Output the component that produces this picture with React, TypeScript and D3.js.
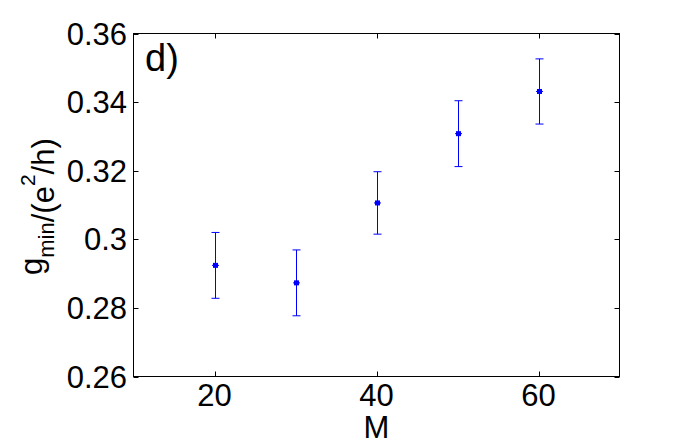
import React from "react";
import * as d3 from "d3";

const mValues = [20, 30, 40, 50, 60];
const gMin = [0.2924, 0.2873, 0.3106, 0.3308, 0.3431];
const gErr = [0.0096, 0.0096, 0.0091, 0.0096, 0.0095];
const xTicks = [20, 40, 60];
const yTicks = [0.26, 0.28, 0.3, 0.32, 0.34, 0.36];

const W = 685, H = 443;
const L = 133.5, R = 619.5, T = 33.5, B = 376.5;

export default function App() {
  const x = d3.scaleLinear().domain([10, 70]).range([L, R]);
  const y = d3.scaleLinear().domain([0.26, 0.36]).range([B, T]);
  const font = "Arial, 'Liberation Sans', Helvetica, sans-serif";
  const tl = 5;
  const fmt = (v: number) => (Math.abs(v - 0.3) < 1e-9 ? "0.3" : v.toFixed(2));
  return (
    <svg width={W} height={H} style={{ position: "absolute", left: 0, top: 0, background: "#fff" }}>
      <rect x={0} y={0} width={W} height={H} fill="#fff" />
      <rect x={L} y={T} width={R - L} height={B - T} fill="none" stroke="#000" strokeWidth={1} />
      {xTicks.map((t) => (
        <g key={"x" + t}>
          <line x1={Math.round(x(t)) + 0.5} x2={Math.round(x(t)) + 0.5} y1={B} y2={B - tl} stroke="#000" />
          <line x1={Math.round(x(t)) + 0.5} x2={Math.round(x(t)) + 0.5} y1={T} y2={T + tl} stroke="#000" />
          <text x={x(t)} y={406} fontSize={31} fontFamily={font} textAnchor="middle">{t}</text>
        </g>
      ))}
      {yTicks.map((t) => (
        <g key={"y" + t}>
          <line x1={L} x2={L + tl} y1={Math.round(y(t)) + 0.5} y2={Math.round(y(t)) + 0.5} stroke="#000" />
          <line x1={R} x2={R - tl} y1={Math.round(y(t)) + 0.5} y2={Math.round(y(t)) + 0.5} stroke="#000" />
          <text x={127} y={y(t) + 11} fontSize={31} fontFamily={font} textAnchor="end">{fmt(t)}</text>
        </g>
      ))}
      <text x={x(40)} y={438} fontSize={31} fontFamily={font} textAnchor="middle">M</text>
      <text transform={`translate(54,275) rotate(-90)`} fontSize={31} fontFamily={font} textAnchor="start">
        <tspan dy={-12}>g</tspan><tspan fontSize={22} dy={12}>min</tspan><tspan>/(e</tspan><tspan fontSize={21} dy={-19}>2</tspan><tspan dy={19}>/h)</tspan>
      </text>
      <text x={145} y={71} fontSize={38} fontFamily={font}>d)</text>
      {mValues.map((m, i) => {
        const cx = Math.round(x(m)) + 0.5;
        const yt = y(gMin[i] + gErr[i]);
        const yb = y(gMin[i] - gErr[i]);
        const cy = y(gMin[i]);
        return (
          <g key={"p" + m} stroke="#0000ff" strokeWidth={1}>
            <line x1={cx} x2={cx} y1={yt} y2={yb} />
            <line x1={cx - 4} x2={cx + 4} y1={yt} y2={yt} />
            <line x1={cx - 4} x2={cx + 4} y1={yb} y2={yb} />
            <line x1={cx - 3.5} x2={cx + 3.5} y1={cy} y2={cy} />
            <rect x={cx - 2.5} y={cy - 2.5} width={5} height={5} fill="#0000ff" stroke="none" />
          </g>
        );
      })}
    </svg>
  );
}
